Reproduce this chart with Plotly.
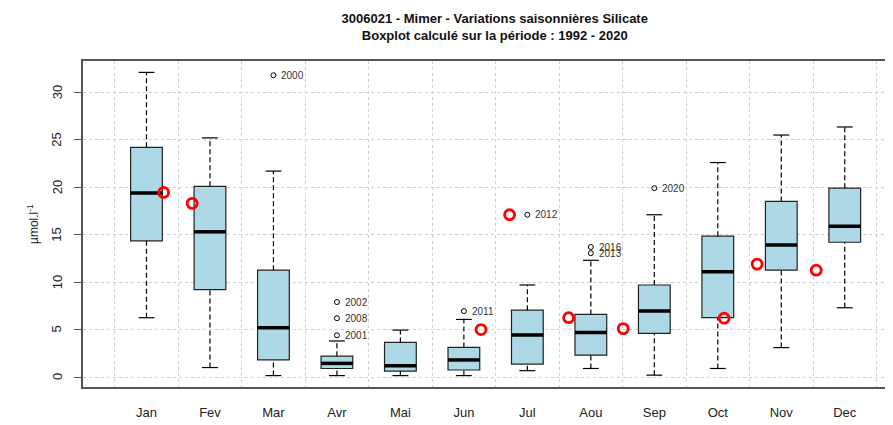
import plotly.graph_objects as go

# Monthly boxplot statistics (µmol/l), 1992-2020
months = ["Jan", "Fev", "Mar", "Avr", "Mai", "Jun", "Jul", "Aou", "Sep", "Oct", "Nov", "Dec"]
q1 = [14.35, 9.2, 1.8, 0.9, 0.63, 0.74, 1.37, 2.3, 4.6, 6.25, 11.26, 14.2]
med = [19.4, 15.3, 5.2, 1.44, 1.2, 1.8, 4.42, 4.7, 6.95, 11.1, 13.9, 15.9]
q3 = [24.2, 20.1, 11.26, 2.2, 3.65, 3.12, 7.05, 6.6, 9.7, 14.84, 18.5, 19.9]
wlo = [6.25, 1.0, 0.15, 0.15, 0.15, 0.15, 0.67, 0.9, 0.2, 0.9, 3.1, 7.3]
whi = [32.1, 25.2, 21.7, 3.8, 4.95, 6.07, 9.7, 12.3, 17.1, 22.6, 25.5, 26.35]

# Outliers with their year
out_month = ["Mar", "Avr", "Avr", "Avr", "Jun", "Jul", "Aou", "Aou", "Sep"]
out_value = [31.8, 7.9, 6.2, 4.4, 6.95, 17.1, 13.7, 13.05, 19.9]
out_year = ["2000", "2002", "2008", "2001", "2011", "2012", "2016", "2013", "2020"]

# Current-year samples (position along the month axis, value)
cur_pos = [1.27, 1.72, 6.27, 6.72, 7.65, 8.51, 10.1, 10.62, 11.55]
cur_value = [19.45, 18.3, 5.0, 17.1, 6.25, 5.1, 6.2, 11.9, 11.26]

y_ticks = [0, 5, 10, 15, 20, 25, 30]

pos = list(range(1, len(months) + 1))
half_box = 0.25
half_cap = 0.125

fig = go.Figure()

# whiskers (dashed)
wx, wy = [], []
for p, a, b, c, d in zip(pos, wlo, q1, q3, whi):
    wx += [p, p, None, p, p, None]
    wy += [a, b, None, c, d, None]
fig.add_trace(go.Scatter(x=wx, y=wy, mode="lines", line=dict(color="black", width=1.2, dash="5px,3px"),
                         hoverinfo="skip", showlegend=False))

# caps
cx, cy = [], []
for p, a, d in zip(pos, wlo, whi):
    cx += [p - half_cap, p + half_cap, None, p - half_cap, p + half_cap, None]
    cy += [a, a, None, d, d, None]
fig.add_trace(go.Scatter(x=cx, y=cy, mode="lines", line=dict(color="black", width=1.2),
                         hoverinfo="skip", showlegend=False))

# boxes
fig.add_trace(go.Box(
    x=pos, q1=q1, median=med, q3=q3, lowerfence=q1, upperfence=q3,
    width=2 * half_box, fillcolor="#ADD8E6", line=dict(color="#222", width=1.2),
    boxpoints=False, showlegend=False, hoverinfo="skip",
))

# thick medians
mx, my = [], []
for p, m in zip(pos, med):
    mx += [p - half_box, p + half_box, None]
    my += [m, m, None]
fig.add_trace(go.Scatter(x=mx, y=my, mode="lines", line=dict(color="black", width=3.5),
                         hoverinfo="skip", showlegend=False))

# outliers
out_x = [months.index(m) + 1 for m in out_month]
fig.add_trace(go.Scatter(x=out_x, y=out_value, mode="markers",
                         marker=dict(symbol="circle-open", size=5, color="black", line=dict(width=1)),
                         showlegend=False))
for x, y, t in zip(out_x, out_value, out_year):
    fig.add_annotation(x=x, y=y, text=t, showarrow=False, xanchor="left", xshift=6,
                       font=dict(size=10, color="#333"))

# current year samples
fig.add_trace(go.Scatter(x=cur_pos, y=cur_value, mode="markers",
                         marker=dict(symbol="circle-open", size=10, color="red", line=dict(width=2.8)),
                         showlegend=False))

# rotated y tick labels, placed like R's axis labels
for v in y_ticks:
    fig.add_annotation(x=0, xref="paper", y=v, yref="y", text=str(v), textangle=-90,
                       showarrow=False, xanchor="center", yanchor="middle", xshift=-26,
                       font=dict(size=13, color="#222"))
fig.add_annotation(x=0, xref="paper", y=0.5, yref="paper", text="µmol.l<sup>-1</sup>", textangle=-90,
                   showarrow=False, xanchor="center", yanchor="middle", xshift=-50,
                   font=dict(size=12, color="#222"))

# page body keeps its default 8px margin, so the figure is sized to the rest of the window
fig.update_layout(
    width=885, height=417,
    margin=dict(l=75, r=0, t=53, b=38, autoexpand=False),
    plot_bgcolor="white", paper_bgcolor="white",
    font=dict(family="Liberation Sans, Arial, sans-serif", color="#222"),
    title=dict(
        text="<b>3006021 - Mimer - Variations saisonnières Silicate<br>Boxplot calculé sur la période : 1992 - 2020</b>",
        x=0.550, xref="container", xanchor="center", y=0.963, yanchor="top",
        font=dict(size=13, color="#111"),
    ),
)

fig.update_xaxes(
    range=[0, 12.76], tickvals=pos, ticktext=months, ticks="",
    showgrid=False, zeroline=False, automargin=False,
    showline=True, mirror=True, linecolor="#555", linewidth=2,
    ticklabelstandoff=12, tickfont=dict(size=13),
    minor=dict(tickvals=[p - 0.5 for p in pos] + [12.5], showgrid=True,
               gridcolor="#d0d0d0", griddash="dot", gridwidth=1, ticks=""),
)
fig.update_yaxes(
    range=[-1.05, 33.3], tickvals=y_ticks, ticks="outside", ticklen=7,
    tickcolor="#555", showticklabels=False, automargin=False,
    showgrid=True, gridcolor="#d0d0d0", griddash="dot", zeroline=False,
    showline=True, mirror=False, linecolor="#555", linewidth=2,
)

fig.write_html("out.html")
